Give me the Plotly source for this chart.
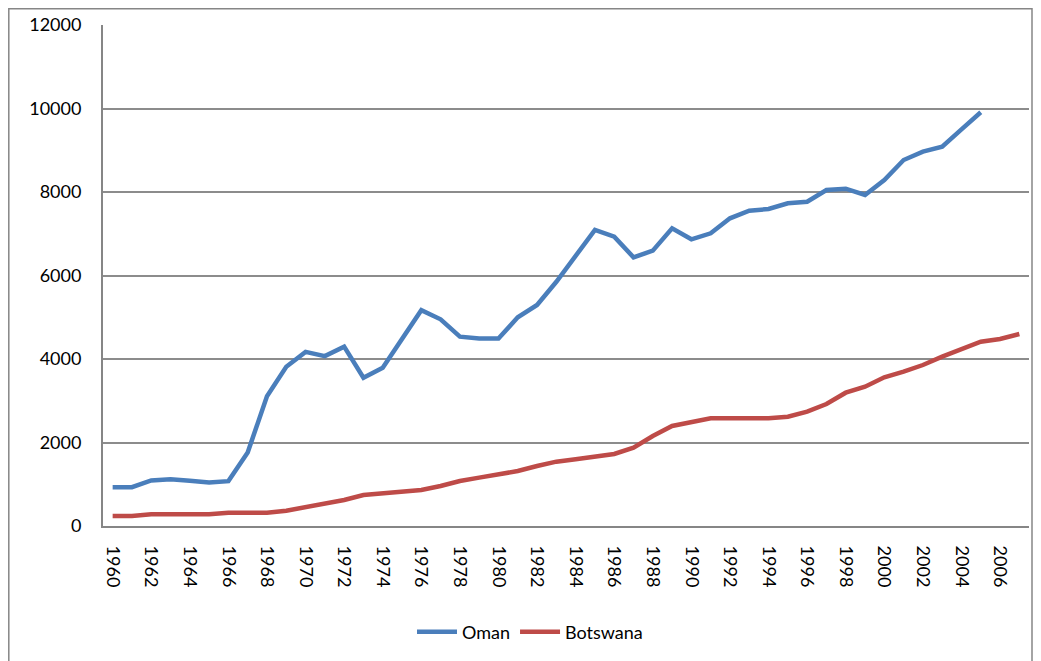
import plotly.graph_objects as go

years = list(range(1960, 2008))
year_ticks = list(range(1960, 2007, 2))

oman_years = list(range(1960, 2006))
oman = [930, 930, 1090, 1120, 1085, 1040, 1075, 1760, 3110, 3816, 4170, 4070, 4295, 3550,
        3790, 4480, 5170, 4950, 4535, 4490, 4490, 5000, 5293, 5850, 6490, 7090, 6930, 6435,
        6595, 7130, 6867, 7010, 7370, 7553, 7593, 7729, 7768, 8048, 8080, 7930, 8287, 8766,
        8966, 9086, 9500, 9910]

botswana = [240, 240, 280, 280, 280, 280, 320, 320, 320, 367, 447, 527, 623, 743, 790,
            822, 862, 958, 1078, 1158, 1238, 1317, 1437, 1541, 1597, 1661, 1725, 1876, 2156,
            2395, 2475, 2580, 2580, 2580, 2580, 2619, 2738, 2922, 3193, 3337, 3561, 3696,
            3856, 4056, 4232, 4415, 4479, 4599]

series_names = ["Oman", "Botswana"]
y_ticks = [0, 2000, 4000, 6000, 8000, 10000, 12000]

FONT = "Lato"

fig = go.Figure()
fig.add_trace(go.Scatter(x=oman_years, y=oman, mode="lines", name=series_names[0],
                         line=dict(color="#4A7EBB", width=4.5)))
fig.add_trace(go.Scatter(x=years, y=botswana, mode="lines", name=series_names[1],
                         line=dict(color="#BE4B48", width=4.5)))

# the page body has an 8px margin, so figure coords = page coords - 8
OFF = 8
L, R, T, B = 103 - OFF, 1029 - OFF, 25 - OFF, 526 - OFF
W, H = 1041, 661

def px(x):
    return (x - OFF - L) / (R - L)

def py(y):
    return (B - (y - OFF)) / (B - T)

fig.update_layout(
    width=W, height=H,
    margin=dict(l=L, r=W - R, t=T, b=H - B, autoexpand=False),
    paper_bgcolor="white", plot_bgcolor="white",
    font=dict(family=FONT, size=18, color="black"),
    showlegend=True,
    legend=dict(orientation="h", x=px(530), xanchor="center", y=py(632), yanchor="middle",
                font=dict(family=FONT, size=18), itemwidth=40, tracegroupgap=0,
                bgcolor="rgba(0,0,0,0)"),
    xaxis=dict(range=[1959.5, 2007.5], tickmode="array", tickvals=year_ticks,
               ticktext=[str(y) for y in year_ticks], tickangle=90, automargin=False,
               showgrid=False, zeroline=False, showline=True, linecolor="#868686", linewidth=2,
               ticks="", ticklabelstandoff=14, fixedrange=True),
    yaxis=dict(range=[0, 12000], tickmode="array", tickvals=y_ticks,
               ticktext=[str(v) for v in y_ticks], automargin=False,
               showgrid=True, gridcolor="#8C8C8C", gridwidth=1.5, zeroline=False,
               showline=True, linecolor="#868686", linewidth=2, ticks="",
               ticklabelstandoff=16, fixedrange=True),
)

# outer chart-area border (clamped to the drawable figure area)
fig.add_shape(type="rect", xref="paper", yref="paper",
              x0=px(8.8), x1=px(1032), y0=py(680), y1=py(8.8),
              line=dict(color="#868686", width=1.5), fillcolor="rgba(0,0,0,0)", layer="below")

fig.write_html("out.html")
